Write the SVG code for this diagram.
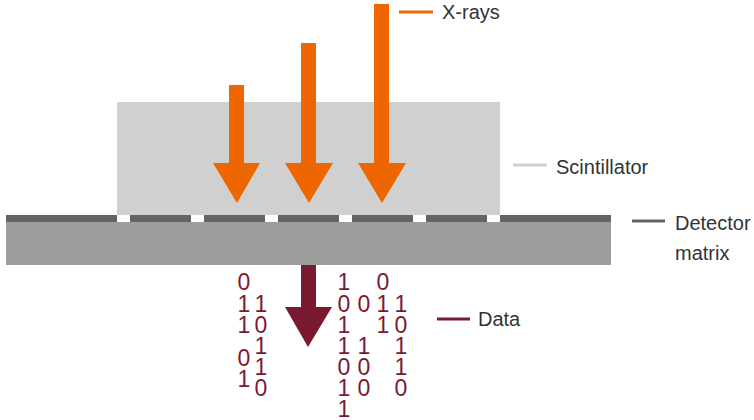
<svg xmlns="http://www.w3.org/2000/svg" width="754" height="420" viewBox="0 0 754 420">
<defs>
<style>
.lbl{font-family:"Liberation Sans",Arial,sans-serif;font-size:20px;fill:#333}
.bit{font-family:"Liberation Sans",Arial,sans-serif;font-size:23px;fill:#7a1a31;text-anchor:middle}
.xray{fill:#ee6600}
.data{fill:#7a1a31}
.seg{fill:#646464}
</style>
</defs>
<rect width="754" height="420" fill="#fff"/>
<g id="scintillator">
<rect x="117" y="102" width="383" height="113" fill="#d0d0d0"/>
</g>
<g id="detector-matrix">
<rect x="6" y="222" width="605" height="43" fill="#9d9d9c"/>
<rect class="seg" x="6" y="215" width="111" height="7"/>
<rect class="seg" x="130" y="215" width="61" height="7"/>
<rect class="seg" x="204" y="215" width="61" height="7"/>
<rect class="seg" x="278" y="215" width="61" height="7"/>
<rect class="seg" x="352" y="215" width="61" height="7"/>
<rect class="seg" x="426" y="215" width="61" height="7"/>
<rect class="seg" x="500" y="215" width="111" height="7"/>
</g>
<g id="xray-arrows">
<polygon class="xray" points="229,85 244,85 244,163 260,163 237,203 213,163 229,163"/>
<polygon class="xray" points="301,43 316,43 316,163 333,163 309,203 285,163 301,163"/>
<polygon class="xray" points="374,4 389,4 389,163 406,163 382,203 358,163 374,163"/>
</g>
<g id="data-arrow">
<polygon class="data" points="301,265 316,265 316,307 332,307 308,347 285,307 301,307"/>
</g>
<g id="bits">
<text class="bit" x="244" y="290">0</text>
<text class="bit" x="244" y="312">1</text>
<text class="bit" x="244" y="333">1</text>
<text class="bit" x="244" y="366">0</text>
<text class="bit" x="244" y="387">1</text>
<text class="bit" x="261" y="312">1</text>
<text class="bit" x="261" y="333">0</text>
<text class="bit" x="261" y="354">1</text>
<text class="bit" x="261" y="375">1</text>
<text class="bit" x="261" y="396">0</text>
<text class="bit" x="344" y="290">1</text>
<text class="bit" x="344" y="312">0</text>
<text class="bit" x="344" y="333">1</text>
<text class="bit" x="344" y="354">1</text>
<text class="bit" x="344" y="375">0</text>
<text class="bit" x="344" y="396">1</text>
<text class="bit" x="344" y="417">1</text>
<text class="bit" x="364" y="312">0</text>
<text class="bit" x="364" y="354">1</text>
<text class="bit" x="364" y="375">0</text>
<text class="bit" x="364" y="396">0</text>
<text class="bit" x="383" y="290">0</text>
<text class="bit" x="383" y="312">1</text>
<text class="bit" x="383" y="333">1</text>
<text class="bit" x="401" y="312">1</text>
<text class="bit" x="401" y="333">0</text>
<text class="bit" x="401" y="354">1</text>
<text class="bit" x="401" y="375">1</text>
<text class="bit" x="401" y="396">0</text>
</g>
<g id="connectors" stroke-width="3">
<line x1="399" y1="12" x2="433" y2="12" stroke="#ee6600"/>
<line x1="513" y1="165" x2="547" y2="165" stroke="#d0d0d0"/>
<line x1="632" y1="221" x2="665" y2="221" stroke="#646464"/>
<line x1="437" y1="319" x2="470" y2="319" stroke="#7a1a31"/>
</g>
<g id="legend">
<text class="lbl" x="442" y="19">X-rays</text>
<text class="lbl" x="556" y="174">Scintillator</text>
<text class="lbl" x="675" y="230">Detector</text>
<text class="lbl" x="675" y="260">matrix</text>
<text class="lbl" x="478" y="326">Data</text>
</g>
</svg>
